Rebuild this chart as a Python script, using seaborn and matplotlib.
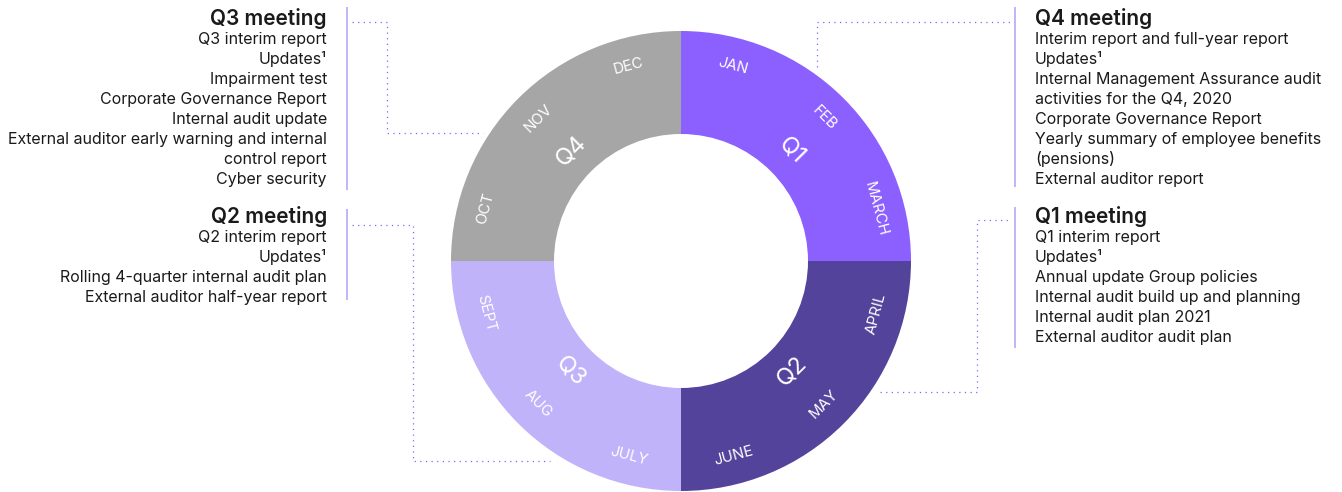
import numpy as np
import matplotlib
matplotlib.use("Agg")
import matplotlib.pyplot as plt
import seaborn as sns

# chart data
quarters = ["Q1", "Q2", "Q3", "Q4"]
quarter_sizes = [3, 3, 3, 3]
quarter_colors = ["#8C5FFF", "#54439B", "#C0B3FA", "#A6A6A6"]
months = ["JAN", "FEB", "MARCH", "APRIL", "MAY", "JUNE",
          "JULY", "AUG", "SEPT", "OCT", "NOV", "DEC"]

q3_title = "Q3 meeting"
q3_items = ["Q3 interim report", "Updates¹", "Impairment test",
            "Corporate Governance Report", "Internal audit update",
            "External auditor early warning and internal", "control report",
            "Cyber security"]
q2_title = "Q2 meeting"
q2_items = ["Q2 interim report", "Updates¹",
            "Rolling 4-quarter internal audit plan",
            "External auditor half-year report"]
q4_title = "Q4 meeting"
q4_items = ["Interim report and full-year report", "Updates¹",
            "Internal Management Assurance audit",
            "activities for the Q4, 2020", "Corporate Governance Report",
            "Yearly summary of employee benefits", "(pensions)",
            "External auditor report"]
q1_title = "Q1 meeting"
q1_items = ["Q1 interim report", "Updates¹", "Annual update Group policies",
            "Internal audit build up and planning", "Internal audit plan 2021",
            "External auditor audit plan"]

sns.set_theme(style="white")
plt.rcParams['font.family'] = ['Inter', 'DejaVu Sans']

W, H = 1342, 492
fig = plt.figure(figsize=(W / 100, H / 100), dpi=100)
ax = fig.add_axes([0, 0, 1, 1])

cx, cy = 681, H - 261
R_out, R_in = 230, 127
ax.pie(quarter_sizes, colors=quarter_colors, startangle=90, counterclock=False,
       radius=R_out, center=(cx, cy),
       wedgeprops=dict(width=R_out - R_in, linewidth=0))
ax.set_xlim(0, W)
ax.set_ylim(0, H)
ax.set_aspect('equal')
ax.axis('off')


def tangent_rot(theta):
    # theta: degrees clockwise from 12 o'clock
    if 90 < theta < 270:
        return 180 - theta
    return -theta


# month labels
n_months = len(months)
for i, m in enumerate(months):
    th = (i + 0.5) * 360 / n_months
    r = 202
    x = cx + r * np.sin(np.radians(th))
    y = cy + r * np.cos(np.radians(th))
    ax.text(x, y, m, color="white", fontsize=10.8, ha="center", va="center",
            rotation=tangent_rot(th), rotation_mode="anchor")

# quarter labels
for q, name in enumerate(quarters):
    th = (q + 0.5) * 360 / len(quarters)
    r = 156
    x = cx + r * np.sin(np.radians(th))
    y = cy + r * np.cos(np.radians(th))
    ax.text(x, y, name, color="white", fontsize=17, ha="center", va="center",
            rotation=tangent_rot(th), rotation_mode="anchor")

text_col = "#1A1A1A"
bar_col = "#B9A7F8"
dot_col = "#8C5FFF"


def block(x, title_base, title, items, ha):
    ax.text(x, H - title_base, title, fontsize=15, fontweight="semibold",
            color=text_col, ha=ha, va="baseline")
    for k, it in enumerate(items):
        ax.text(x, H - (title_base + 19 + 20 * k), it, fontsize=11.5,
                color=text_col, ha=ha, va="baseline")


block(327, 25, q3_title, q3_items, "right")
block(327, 223, q2_title, q2_items, "right")
block(1035, 25, q4_title, q4_items, "left")
block(1035, 223, q1_title, q1_items, "left")

# vertical bars next to the blocks
for x, y0, y1 in [(347, 7, 190), (347, 209, 300), (1015, 7, 187), (1015, 207, 348)]:
    ax.plot([x, x], [H - y0, H - y1], color=bar_col, lw=1.2, solid_capstyle="butt")

# dotted connectors
connectors = [
    [(352, 22), (387, 22), (387, 133), (483, 133)],
    [(352, 225), (413, 225), (413, 461), (550, 461)],
    [(817, 67), (817, 22), (1010, 22)],
    [(880, 392), (977, 392), (977, 220), (1010, 220)],
]
for path in connectors:
    xs = [p[0] for p in path]
    ys = [H - p[1] for p in path]
    ax.plot(xs, ys, color=dot_col, lw=0.9, linestyle=(0, (1, 3.5)))

fig.savefig("out.png", dpi=100)
